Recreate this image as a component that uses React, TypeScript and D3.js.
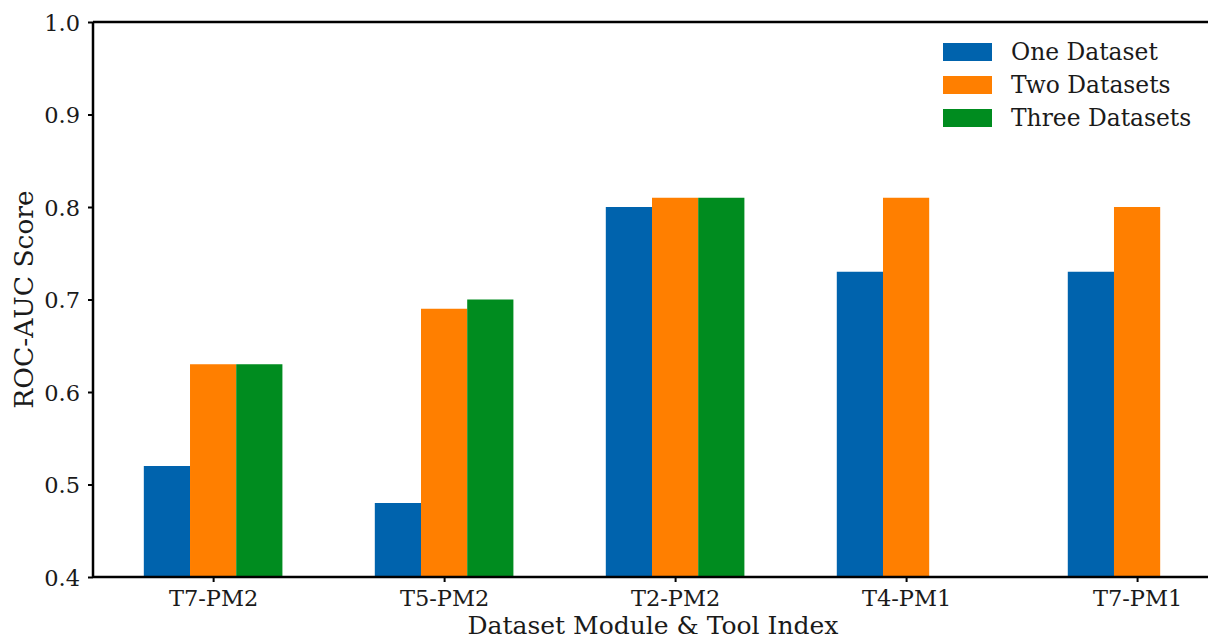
import React, { useEffect, useRef } from "react";
import { select, scaleLinear, axisLeft, axisBottom } from "d3";

// categories along the x axis
const groups = ["T7-PM2", "T5-PM2", "T2-PM2", "T4-PM1", "T7-PM1"];
// one value per group, null where the series has no bar
const oneDataset = [0.52, 0.48, 0.8, 0.73, 0.73];
const twoDatasets = [0.63, 0.69, 0.81, 0.81, 0.8];
const threeDatasets = [0.63, 0.7, 0.81, null, null];
const yTicks = [0.4, 0.5, 0.6, 0.7, 0.8, 0.9, 1.0];

const seriesNames = ["One Dataset", "Two Datasets", "Three Datasets"];
const seriesColors = ["#0063ad", "#ff7f00", "#008c1f"];

const W = 1208;
const H = 641;
const FONT = "'DejaVu Serif', serif";
const INK = "#1a1a1a";

function GroupedBarChart() {
  const svgRef = useRef<SVGSVGElement>(null);

  useEffect(() => {
    const svg = select(svgRef.current);
    svg.selectAll("*").remove();

    const barW = 0.2;
    const series = [oneDataset, twoDatasets, threeDatasets];

    // matplotlib-like limits: bars span -0.3..4.1 plus 5% margin
    const x = scaleLinear().domain([-0.52, 4.32]).range([93, 1211]);
    const y = scaleLinear().domain([0.4, 1.0]).range([577, 22]);

    // bars
    series.forEach((vals, si) => {
      const rows = vals
        .map((v, i) => ({ v, i }))
        .filter((d) => d.v !== null) as { v: number; i: number }[];
      svg
        .append("g")
        .attr("fill", seriesColors[si])
        .selectAll("rect")
        .data(rows)
        .join("rect")
        .attr("x", (d) => x(d.i + (si - 1) * barW - barW / 2))
        .attr("width", x(barW) - x(0))
        .attr("y", (d) => y(d.v))
        .attr("height", (d) => y(0.4) - y(d.v));
    });

    // axes
    const yAxis = svg
      .append("g")
      .attr("transform", "translate(93,0)")
      .call(
        axisLeft(y)
          .tickValues(yTicks)
          .tickFormat((d) => (d as number).toFixed(1))
          .tickSize(5)
      );
    yAxis.selectAll("text").attr("x", -13).attr("dy", "0.36em");

    const xAxis = svg
      .append("g")
      .attr("transform", "translate(0,577)")
      .call(
        axisBottom(x)
          .tickValues(groups.map((_, i) => i))
          .tickFormat((_, i) => groups[i])
          .tickSize(5)
      );
    xAxis.selectAll("text").attr("y", 28.5).attr("dy", 0);

    [yAxis, xAxis].forEach((g) => {
      g.select(".domain").remove();
      g.selectAll("line").attr("stroke", "#000").attr("stroke-width", 2);
      g.selectAll("text")
        .attr("fill", INK)
        .style("font-family", FONT)
        .style("font-size", "22.5px");
    });

    // spines (left, bottom, top; right one falls just outside the picture)
    const spines = svg.append("g").attr("stroke", "#000").attr("stroke-width", 2.5);
    spines.append("line").attr("x1", 93).attr("x2", 93).attr("y1", 22).attr("y2", 577);
    spines.append("line").attr("x1", 93).attr("x2", 1211).attr("y1", 577).attr("y2", 577);
    spines.append("line").attr("x1", 93).attr("x2", 1211).attr("y1", 22).attr("y2", 22);
    spines.append("line").attr("x1", 1211).attr("x2", 1211).attr("y1", 22).attr("y2", 577);

    // axis titles
    svg
      .append("text")
      .attr("x", 653)
      .attr("y", 634)
      .attr("text-anchor", "middle")
      .style("font-family", FONT)
      .style("font-size", "25px")
      .attr("fill", INK)
      .text("Dataset Module & Tool Index");
    svg
      .append("text")
      .attr("transform", `translate(33,${(22 + 577) / 2}) rotate(-90)`)
      .attr("text-anchor", "middle")
      .style("font-family", FONT)
      .style("font-size", "26.5px")
      .attr("fill", INK)
      .text("ROC-AUC Score");

    // legend
    const legend = svg
      .append("g")
      .selectAll("g")
      .data(seriesNames)
      .join("g")
      .attr("transform", (_, i) => `translate(943,${52 + i * 33})`);
    legend
      .append("rect")
      .attr("y", -9)
      .attr("width", 49)
      .attr("height", 18)
      .attr("fill", (_, i) => seriesColors[i]);
    legend
      .append("text")
      .attr("x", 68)
      .attr("y", 7.5)
      .style("font-family", FONT)
      .style("font-size", "23.4px")
      .attr("fill", INK)
      .text((d) => d);
  }, []);

  return (
    <svg
      ref={svgRef}
      width={W}
      height={H}
      style={{ position: "absolute", left: 0, top: 0, background: "#fff" }}
    />
  );
}

export default function App() {
  return <GroupedBarChart />;
}
